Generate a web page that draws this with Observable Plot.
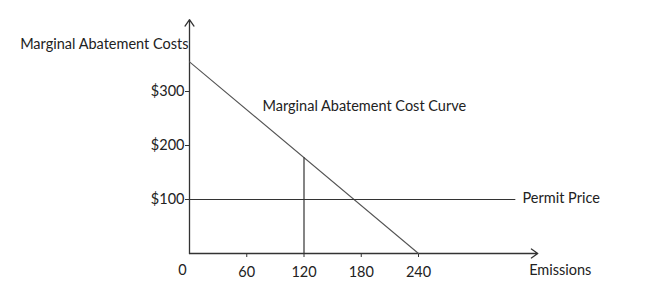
<!DOCTYPE html>
<html>
<head>
<meta charset="utf-8">
<script src="https://cdn.jsdelivr.net/npm/d3@7"></script>
<script src="https://cdn.jsdelivr.net/npm/@observablehq/plot@0.6"></script>
<style>
  html, body { margin: 0; padding: 0; background: #fff; }
</style>
</head>
<body>
<div id="chart"></div>
<script>
// ---- data ----
const xTicks = [60, 120, 180, 240];
const yTicks = [100, 200, 300];
const curveEmissions = [0, 240];
const curveCost = [355, 0];
const permitPrice = 100;
const permitLineEnd = 342;
const chosenEmissions = 120;
const chosenCost = 177.5;
const xAxisEnd = 365;
const yAxisEnd = 433;
const labels = {
  yTitle: "Marginal Abatement Costs",
  xTitle: "Emissions",
  curve: "Marginal Abatement Cost Curve",
  permit: "Permit Price",
  origin: "0"
};

const curve = curveEmissions.map((e, i) => ({x: e, y: curveCost[i]}));
const ink = "#333";
const txt = "#222";
const fs = 14.5;

const chart = Plot.plot({
  width: 657,
  height: 291,
  marginLeft: 189,
  marginRight: 239,
  marginTop: 91,
  marginBottom: 38,
  x: {domain: [0, 240]},
  y: {domain: [0, 300]},
  style: {fontFamily: "Lato, 'Open Sans', sans-serif", fontSize: fs + "px", color: txt, background: "#fff"},
  marks: [
    Plot.axisX({ticks: xTicks, tickSize: 4, tickPadding: 9, label: null, stroke: ink, fill: txt, fontSize: fs}),
    Plot.axisY({ticks: yTicks, tickSize: 4, tickPadding: 1, label: null, tickFormat: d => "$" + d, stroke: ink, fill: txt, fontSize: fs}),
    Plot.arrow([{x1: 0, y1: 0, x2: xAxisEnd, y2: 0}], {x1: "x1", y1: "y1", x2: "x2", y2: "y2", stroke: ink, strokeWidth: 1.3, headLength: 9, headAngle: 70}),
    Plot.arrow([{x1: 0, y1: 0, x2: 0, y2: yAxisEnd}], {x1: "x1", y1: "y1", x2: "x2", y2: "y2", stroke: ink, strokeWidth: 1.3, headLength: 9, headAngle: 70}),
    Plot.line(curve, {x: "x", y: "y", stroke: "#555", strokeWidth: 1.1}),
    Plot.ruleY([permitPrice], {x1: 0, x2: permitLineEnd, stroke: ink, strokeWidth: 1.2}),
    Plot.ruleX([chosenEmissions], {y1: 0, y2: chosenCost, stroke: ink, strokeWidth: 1.2}),
    Plot.text([labels.yTitle], {x: 0, y: 387, text: d => d, textAnchor: "end", dx: -1, fill: txt, fontSize: fs}),
    Plot.text([labels.curve], {x: 76.5, y: 272, text: d => d, textAnchor: "start", fill: txt, fontSize: fs}),
    Plot.text([labels.permit], {x: 349, y: permitPrice, text: d => d, textAnchor: "start", dy: -1, fill: txt, fontSize: fs}),
    Plot.text([labels.xTitle], {x: 356, y: 0, text: d => d, textAnchor: "start", dy: 17, fill: txt, fontSize: fs}),
    Plot.text([labels.origin], {x: 0, y: 0, text: d => d, textAnchor: "middle", dx: -7, dy: 17, fill: txt, fontSize: fs})
  ]
});
document.getElementById("chart").appendChild(chart);
</script>
</body>
</html>
